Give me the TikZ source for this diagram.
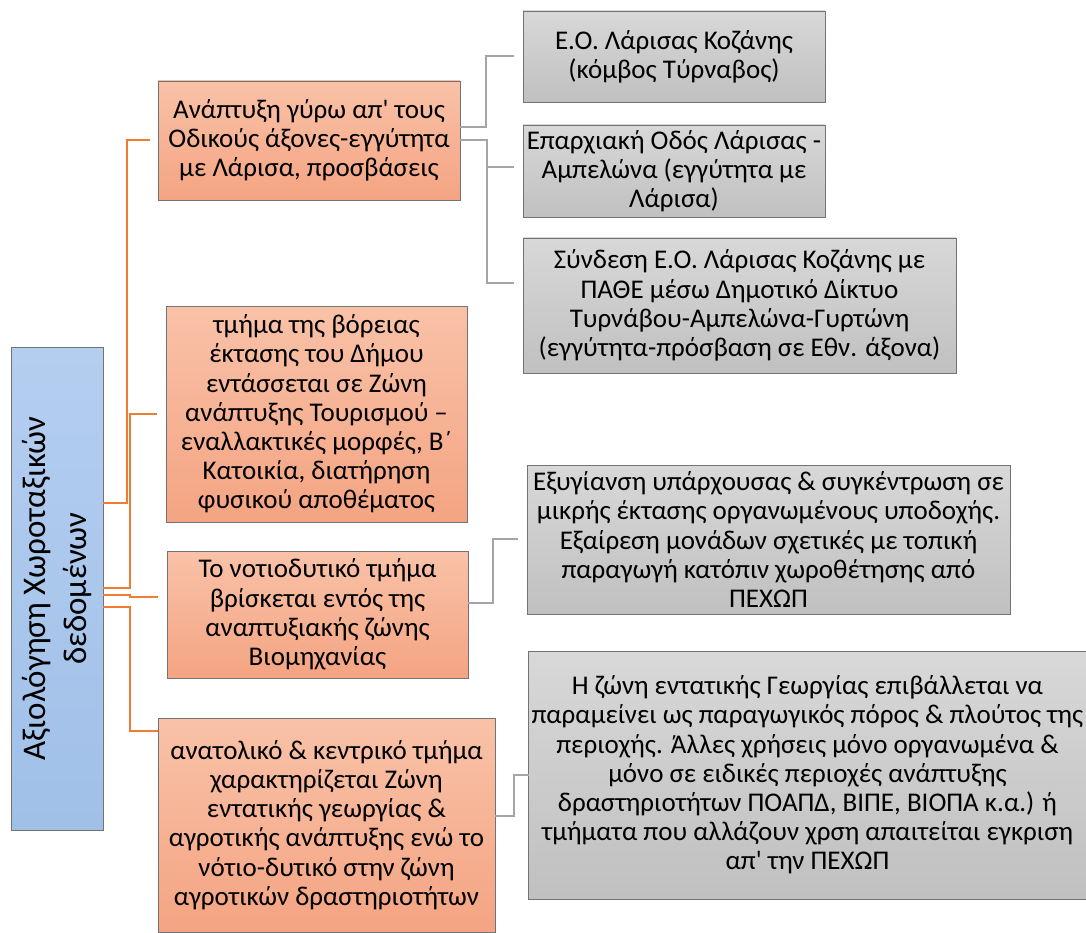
\documentclass[tikz,border=0pt]{standalone}
\usepackage{fontspec}
\setmainfont{Carlito}[Ligatures=TeXOff]
\definecolor{otop}{RGB}{249,194,168}
\definecolor{obot}{RGB}{244,164,130}
\definecolor{gtop}{RGB}{216,216,216}
\definecolor{gbot}{RGB}{192,192,192}
\definecolor{btop}{RGB}{180,206,240}
\definecolor{bbot}{RGB}{160,192,232}
\definecolor{oline}{RGB}{237,125,49}
\definecolor{gline}{RGB}{165,165,165}
\definecolor{bord}{RGB}{115,115,115}
\tikzset{
  box/.style={draw=bord, line width=0.8pt, inner sep=3pt, outer sep=0pt, align=center,
    font=\fontsize{27}{29.2}\selectfont, text=black},
  obox/.style={box, top color=otop, bottom color=obot},
  gbox/.style={box, top color=gtop, bottom color=gbot},
  rootbox/.style={box, top color=btop, bottom color=bbot, font=\fontsize{33}{41}\selectfont},
  oconn/.style={draw=oline, line width=2pt},
  gconn/.style={draw=gline, line width=2pt},
}
\begin{document}
\begin{tikzpicture}[x=1pt,y=-1pt]
\useasboundingbox (0,0) rectangle (1086,933);
% root
\node[rootbox, rotate=90, minimum width=483pt, minimum height=92pt] (root) at (57,588.5)
  {Αξιολόγηση Χωροταξικών\\δεδομένων};
% orange level
\node[obox, minimum width=302pt, minimum height=119pt] (b1) at (309,140.5)
  {Ανάπτυξη γύρω απ' τους\\Οδικούς άξονες-εγγύτητα\\με Λάρισα, προσβάσεις};
\node[obox, minimum width=301pt, minimum height=216pt] (b2) at (316.5,414)
  {τμήμα της βόρειας\\έκτασης του Δήμου\\εντάσσεται σε Ζώνη\\ανάπτυξης Τουρισμού –\\εναλλακτικές μορφές, Β΄\\Κατοικία, διατήρηση\\φυσικού αποθέματος};
\node[obox, minimum width=301pt, minimum height=127pt] (b3) at (317.5,614.5)
  {Το νοτιοδυτικό τμήμα\\βρίσκεται εντός της\\αναπτυξιακής ζώνης\\Βιομηχανίας};
\node[obox, minimum width=337pt, minimum height=214pt] (b4) at (326.5,825)
  {ανατολικό \& κεντρικό τμήμα\\χαρακτηρίζεται Ζώνη\\εντατικής γεωργίας \&\\αγροτικής ανάπτυξης ενώ το\\νότιο-δυτικό στην ζώνη\\αγροτικών δραστηριοτήτων};
% grey level
\node[gbox, minimum width=302pt, minimum height=91pt] (g1) at (674,56.5)
  {Ε.Ο. Λάρισας Κοζάνης\\(κόμβος Τύρναβος)};
\node[gbox, minimum width=302pt, minimum height=92pt] (g2) at (674,171)
  {Επαρχιακή Οδός Λάρισας -\\Αμπελώνα (εγγύτητα με\\Λάρισα)};
\node[gbox, minimum width=433pt, minimum height=135pt] (g3) at (739.5,305.5)
  {Σύνδεση Ε.Ο. Λάρισας Κοζάνης με\\ΠΑΘΕ μέσω Δημοτικό Δίκτυο\\Τυρνάβου-Αμπελώνα-Γυρτώνη\\(εγγύτητα-πρόσβαση σε Εθν. άξονα)};
\node[gbox, minimum width=483pt, minimum height=149pt] (g4) at (768.5,539.5)
  {Εξυγίανση υπάρχουσας \& συγκέντρωση σε\\μικρής έκτασης οργανωμένους υποδοχής.\\Εξαίρεση μονάδων σχετικές με τοπική\\παραγωγή κατόπιν χωροθέτησης από\\ΠΕΧΩΠ};
\node[gbox, minimum width=555pt, minimum height=248pt] (g5) at (807.5,775)
  {Η ζώνη εντατικής Γεωργίας επιβάλλεται να\\παραμείνει ως παραγωγικός πόρος \& πλούτος της\\περιοχής. Άλλες χρήσεις μόνο οργανωμένα \&\\μόνο σε ειδικές περιοχές ανάπτυξης\\δραστηριοτήτων ΠΟΑΠΔ, ΒΙΠΕ, ΒΙΟΠΑ κ.α.) ή\\τμήματα που αλλάζουν χρση απαιτείται εγκριση\\απ' την ΠΕΧΩΠ};
% orange connectors
\draw[oconn] (root.south |- 0,503) -| ([xshift=-31pt]b1.west) -- ([xshift=-8pt]b1.west);
\draw[oconn] (root.south |- 0,588) -| ([xshift=-36pt]b2.west) -- ([xshift=-9pt]b2.west);
\draw[oconn] (root.south |- 0,595) -| ([xshift=-37pt]b3.west |- 0,597) -- ([xshift=-9pt]b3.west |- 0,597);
\draw[oconn] (root.south |- 0,607) -| ([xshift=-28pt]b4.west |- 0,731) -- (b4.west |- 0,731);
% grey connectors
\draw[gconn] (b1.east |- 0,127) -| ([xshift=-37pt]g1.west) -- ([xshift=-9pt]g1.west);
\draw[gconn] (b1.east |- 0,140) -| ([xshift=-36pt]g2.west |- 0,167) -- ([xshift=-9pt]g2.west |- 0,167);
\draw[gconn] (b1.east |- 0,140) -| ([xshift=-36pt]g3.west |- 0,283) -- ([xshift=-9pt]g3.west |- 0,283);
\draw[gconn] (b3.east |- 0,603) -| ([xshift=-34pt]g4.west |- 0,539) -- ([xshift=-9pt]g4.west |- 0,539);
\draw[gconn] (b4.east |- 0,816) -| ([xshift=-15pt]g5.west |- 0,775) -- (g5.west |- 0,775);
\end{tikzpicture}
\end{document}
